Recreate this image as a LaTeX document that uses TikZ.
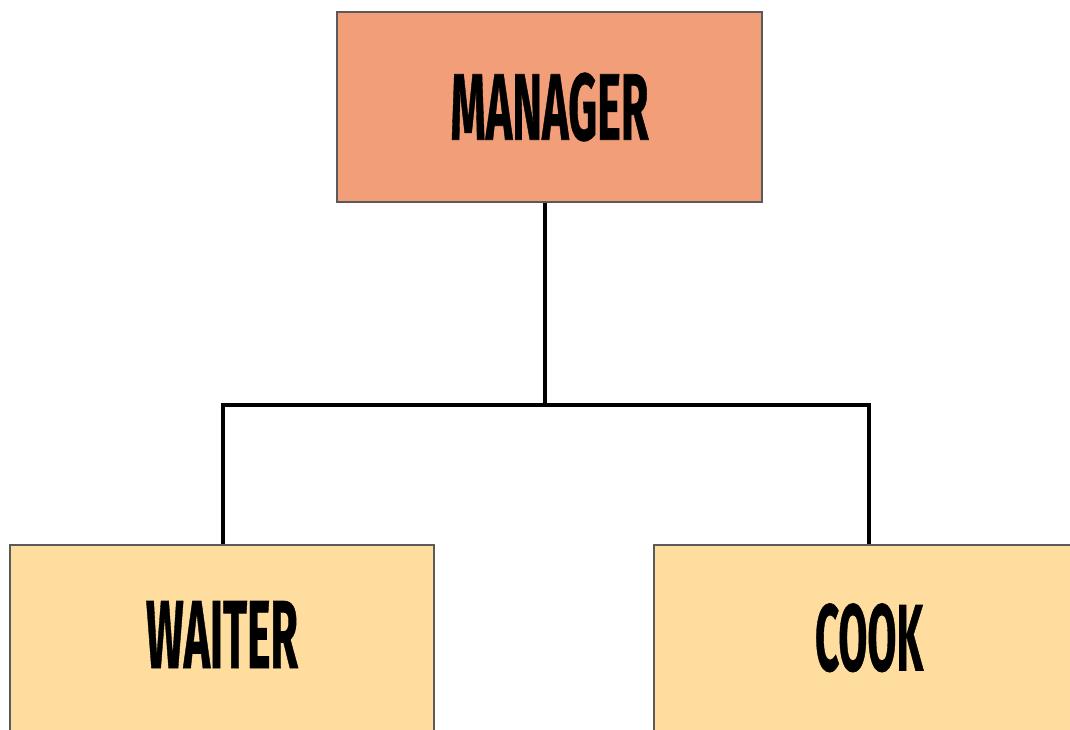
\documentclass[tikz,border=0pt]{standalone}
\usepackage{fontspec}
\usepackage{graphicx}
\newfontfamily\lblfont[BoldFeatures={FakeBold=0.8}]{Fira Sans}
\definecolor{mgrfill}{RGB}{242,158,120}
\definecolor{stafffill}{RGB}{254,221,158}
\definecolor{boxline}{RGB}{90,90,90}
\newcommand{\lbl}[2]{\resizebox{#1}{67pt}{\lblfont\bfseries #2}}
\begin{document}
\begin{tikzpicture}[x=1pt,y=-1pt,
  orgbox/.style={draw=boxline,line width=1.3pt,inner sep=0pt,minimum width=425pt,minimum height=190pt},
  conn/.style={draw=black,line width=3.5pt}]
\useasboundingbox (0,0) rectangle (1070,729);
\clip (0,0) rectangle (1070,729);
\fill[white] (0,0) rectangle (1070,729);
\node[orgbox,fill=mgrfill] (manager) at (549.5,107) {\raisebox{1pt}{\lbl{198pt}{MANAGER}}};
\node[orgbox,fill=stafffill,minimum width=424pt] (waiter) at (222,640) {\raisebox{11pt}{\lbl{152pt}{WAITER}}};
\node[orgbox,fill=stafffill,minimum width=430pt] (cook) at (869,640) {\raisebox{6pt}{\lbl{108pt}{COOK}}};
\coordinate (j) at (545,405);
\coordinate (jl) at (223,405);
\coordinate (jr) at (869,405);
\draw[conn] (manager.south -| j) -- (j);
\draw[conn,line cap=rect] (jl) -- (jr);
\draw[conn] (jl) -- (jl |- waiter.north);
\draw[conn] (jr) -- (jr |- cook.north);
\end{tikzpicture}
\end{document}
